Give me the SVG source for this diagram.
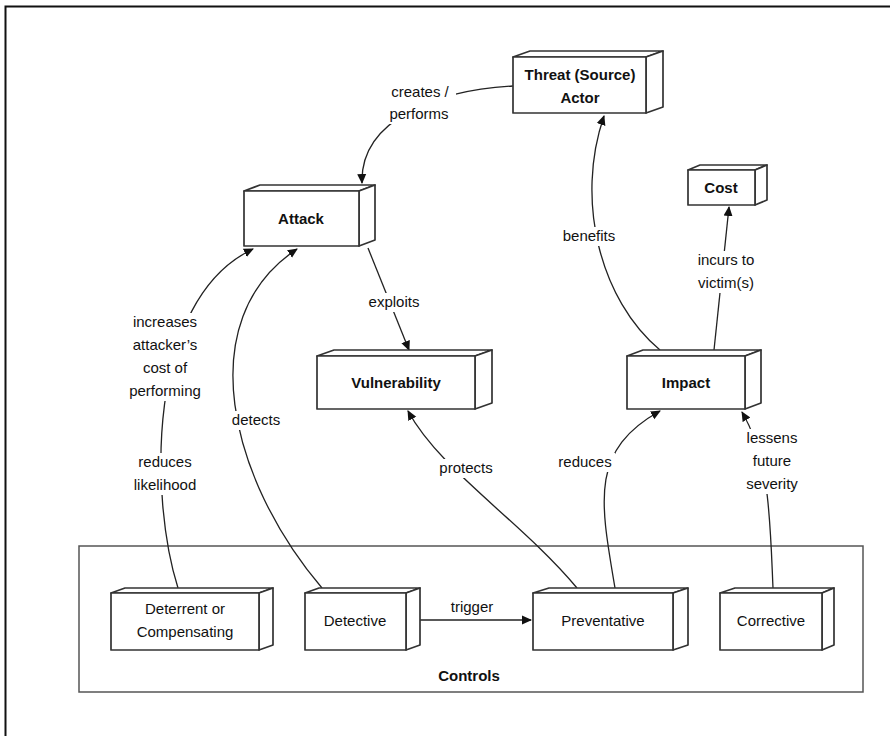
<svg xmlns="http://www.w3.org/2000/svg" width="890" height="736" viewBox="0 0 890 736">
<defs>
<style>
.box{fill:#fff;stroke:#333;stroke-width:1.7;stroke-linejoin:round}
.t{font-family:"Liberation Sans",Arial,sans-serif;font-size:15px;fill:#111;text-anchor:middle}
.b{font-weight:bold}
.c{fill:none;stroke:#222;stroke-width:1.3}
.lbl{fill:#fff;stroke:none}
</style>
<marker id="ah" viewBox="0 0 10 10" refX="9" refY="5" markerWidth="10" markerHeight="10" markerUnits="userSpaceOnUse" orient="auto">
<path d="M0,0.5 L10,5 L0,9.5 z" fill="#111"/>
</marker>
</defs>
<rect x="0" y="0" width="890" height="736" fill="#fff"/>
<path d="M5.5,740 V6.5 H895" fill="none" stroke="#111" stroke-width="2"/>

<g id="controls">
<rect x="79" y="546" width="784" height="146" fill="none" stroke="#555" stroke-width="1.5"/>
<text class="t b" x="469" y="681">Controls</text>
</g>

<g id="connectors">
<path class="c" d="M513,86 C440,90 360,118 362,183" marker-end="url(#ah)"/>
<path class="c" d="M660,350 C600,300 575,200 604,116" marker-end="url(#ah)"/>
<path class="c" d="M714,350 L729,207" marker-end="url(#ah)"/>
<path class="c" d="M368,248 L409,350" marker-end="url(#ah)"/>
<path class="c" d="M322,588 C230,480 190,320 297,249" marker-end="url(#ah)"/>
<path class="c" d="M178,588 C150,500 145,300 253,249" marker-end="url(#ah)"/>
<path class="c" d="M577,588 C520,520 440,470 408,411" marker-end="url(#ah)"/>
<path class="c" d="M615,588 C600,500 590,450 660,411" marker-end="url(#ah)"/>
<path class="c" d="M773,588 C770,520 770,460 742,412" marker-end="url(#ah)"/>
<path class="c" d="M406,620 L531,620" marker-end="url(#ah)"/>
<g>
<rect class="lbl" x="384" y="83" width="72" height="41"/>
<rect class="lbl" x="558" y="227" width="62" height="19"/>
<rect class="lbl" x="690" y="251" width="72" height="42"/>
<rect class="lbl" x="366" y="293" width="56" height="19"/>
<rect class="lbl" x="128" y="313" width="74" height="88"/>
<rect class="lbl" x="228" y="411" width="56" height="19"/>
<rect class="lbl" x="128" y="453" width="74" height="42"/>
<rect class="lbl" x="436" y="459" width="60" height="19"/>
<rect class="lbl" x="555" y="453" width="60" height="19"/>
<rect class="lbl" x="744" y="429" width="56" height="65"/>
</g>
<text class="t" x="420" y="97">creates /</text>
<text class="t" x="419" y="119">performs</text>
<text class="t" x="589" y="241">benefits</text>
<text class="t" x="726" y="265">incurs to</text>
<text class="t" x="726" y="288">victim(s)</text>
<text class="t" x="394" y="307">exploits</text>
<text class="t" x="165" y="327">increases</text>
<text class="t" x="165" y="350">attacker’s</text>
<text class="t" x="165" y="373">cost of</text>
<text class="t" x="165" y="396">performing</text>
<text class="t" x="256" y="425">detects</text>
<text class="t" x="165" y="467">reduces</text>
<text class="t" x="165" y="490">likelihood</text>
<text class="t" x="466" y="473">protects</text>
<text class="t" x="585" y="467">reduces</text>
<text class="t" x="772" y="443">lessens</text>
<text class="t" x="772" y="466">future</text>
<text class="t" x="772" y="489">severity</text>
<text class="t" x="472" y="612">trigger</text>
</g>

<g id="threat">
<path class="box" d="M513,57 L530,51 L663,51 L646,57 Z"/>
<path class="box" d="M646,57 L663,51 L663,107 L646,113 Z"/>
<rect class="box" x="513" y="57" width="133" height="56"/>
<text class="t b" x="580" y="80">Threat (Source)</text>
<text class="t b" x="580" y="103">Actor</text>
</g>

<g id="attack">
<path class="box" d="M244,191 L260,185 L375,185 L359,191 Z"/>
<path class="box" d="M359,191 L375,185 L375,240 L359,246 Z"/>
<rect class="box" x="244" y="191" width="115" height="55"/>
<text class="t b" x="301" y="224">Attack</text>
</g>

<g id="cost">
<path class="box" d="M688,170 L700,165 L767,165 L755,170 Z"/>
<path class="box" d="M755,170 L767,165 L767,200 L755,205 Z"/>
<rect class="box" x="688" y="170" width="67" height="35"/>
<text class="t b" x="721" y="193">Cost</text>
</g>

<g id="vulnerability">
<path class="box" d="M317,356 L334,350 L492,350 L475,356 Z"/>
<path class="box" d="M475,356 L492,350 L492,403 L475,409 Z"/>
<rect class="box" x="317" y="356" width="158" height="53"/>
<text class="t b" x="396" y="388">Vulnerability</text>
</g>

<g id="impact">
<path class="box" d="M627,356 L643,350 L761,350 L745,356 Z"/>
<path class="box" d="M745,356 L761,350 L761,403 L745,409 Z"/>
<rect class="box" x="627" y="356" width="118" height="53"/>
<text class="t b" x="686" y="388">Impact</text>
</g>

<g id="deterrent">
<path class="box" d="M111,593 L125,588 L273,588 L259,593 Z"/>
<path class="box" d="M259,593 L273,588 L273,645 L259,650 Z"/>
<rect class="box" x="111" y="593" width="148" height="57"/>
<text class="t" x="185" y="614">Deterrent or</text>
<text class="t" x="185" y="637">Compensating</text>
</g>

<g id="detective">
<path class="box" d="M305,593 L319,588 L420,588 L406,593 Z"/>
<path class="box" d="M406,593 L420,588 L420,645 L406,650 Z"/>
<rect class="box" x="305" y="593" width="101" height="57"/>
<text class="t" x="355" y="626">Detective</text>
</g>

<g id="preventative">
<path class="box" d="M533,593 L549,588 L688,588 L673,593 Z"/>
<path class="box" d="M673,593 L688,588 L688,645 L673,650 Z"/>
<rect class="box" x="533" y="593" width="140" height="57"/>
<text class="t" x="603" y="626">Preventative</text>
</g>

<g id="corrective">
<path class="box" d="M720,593 L735,588 L834,588 L822,593 Z"/>
<path class="box" d="M822,593 L834,588 L834,645 L822,650 Z"/>
<rect class="box" x="720" y="593" width="102" height="57"/>
<text class="t" x="771" y="626">Corrective</text>
</g>
</svg>
